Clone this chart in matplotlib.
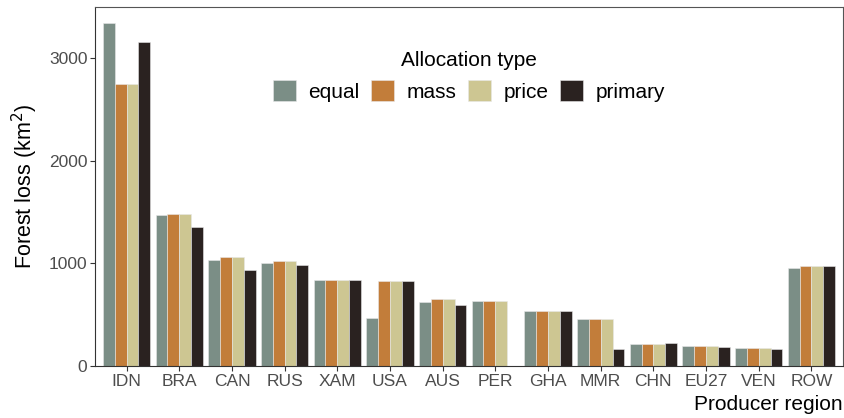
import numpy as np
import matplotlib
matplotlib.use("Agg")
import matplotlib.pyplot as plt

plt.rcParams['font.family'] = ['Liberation Sans', 'DejaVu Sans']

regions = ['IDN', 'BRA', 'CAN', 'RUS', 'XAM', 'USA', 'AUS', 'PER', 'GHA',
           'MMR', 'CHN', 'EU27', 'VEN', 'ROW']
alloc_types = ['equal', 'mass', 'price', 'primary']
colors = ['#7b8e86', '#c27d3a', '#cdc692', '#2a2220']

equal = [3341, 1471, 1032, 1003, 840, 465, 620, 630, 532, 461, 211, 192, 175, 955]
mass = [2747, 1481, 1062, 1023, 837, 828, 653, 630, 532, 461, 211, 192, 175, 974]
price = [2747, 1481, 1062, 1023, 837, 828, 653, 630, 532, 461, 211, 192, 175, 974]
primary = [3156, 1354, 935, 984, 840, 828, 594, 0, 532, 162, 221, 185, 162, 974]
series = [equal, mass, price, primary]

fig = plt.figure(figsize=(8.45, 4.18), dpi=100)
ax = fig.add_axes([95/845, 1-366/418, 748/845, 359/418])

x = np.arange(1, len(regions)+1)
w = 0.9/4
for k, (name, vals) in enumerate(zip(alloc_types, series)):
    ax.bar(x - 0.45 + w*(k+0.5), vals, width=w, color=colors[k], label=name,
           edgecolor='#e8e8e8', linewidth=0.4)

ax.set_xlim(0.4, 14.6)
ax.set_ylim(0, 3500)
ax.set_xticks(x)
ax.set_xticklabels(regions)
ax.set_yticks([0, 1000, 2000, 3000])
ax.tick_params(axis='both', labelsize=12.5, colors='#333333', labelcolor='#4d4d4d',
               length=3.5, width=0.8, pad=2)
for s in ['top', 'right']:
    ax.spines[s].set_color('#555555')
    ax.spines[s].set_linewidth(0.8)
for s in ['left', 'bottom']:
    ax.spines[s].set_color('#333333')
    ax.spines[s].set_linewidth(0.8)

ax.set_ylabel('Forest loss (km$^2$)', fontsize=15.5, labelpad=6)
ax.set_xlabel('Producer region', fontsize=15, labelpad=2)
ax.xaxis.set_label_coords(1.0, -0.08)
ax.xaxis.label.set_horizontalalignment('right')

leg = ax.legend(title='Allocation type', ncol=4, loc='upper center',
                bbox_to_anchor=(0.5, 0.93), frameon=False, fontsize=15,
                title_fontsize=15, handlelength=1.1, handleheight=1.15,
                columnspacing=0.55, handletextpad=0.6)

fig.savefig('out.png', dpi=100)
